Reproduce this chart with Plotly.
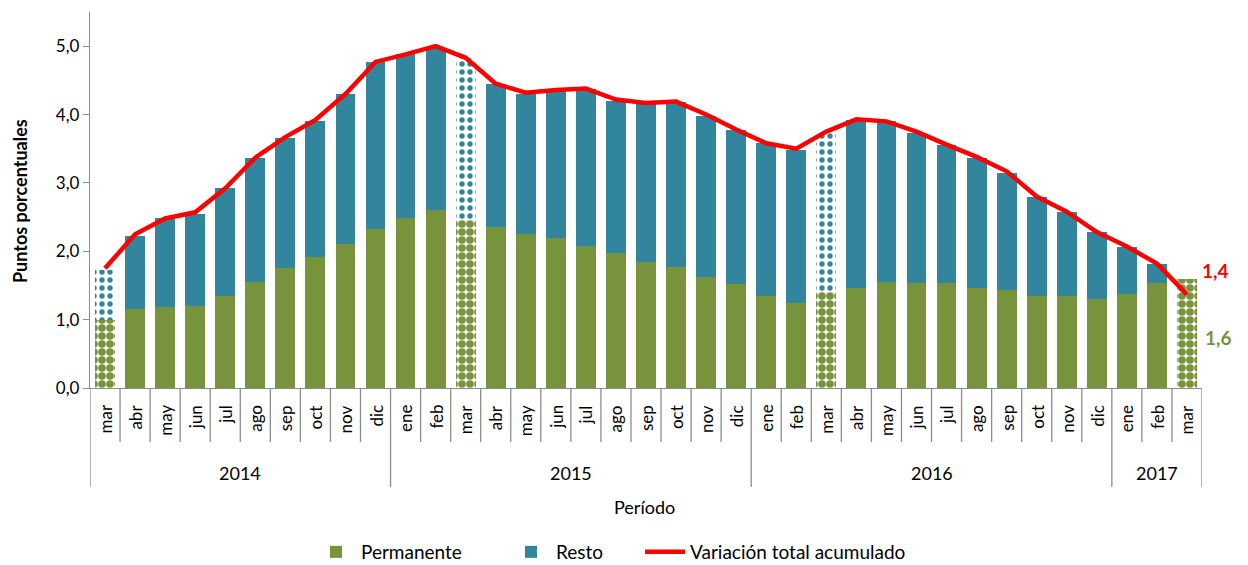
import plotly.graph_objects as go

years = ["2014"] * 10 + ["2015"] * 12 + ["2016"] * 12 + ["2017"] * 3
months = ["mar", "abr", "may", "jun", "jul", "ago", "sep", "oct", "nov", "dic",
          "ene", "feb", "mar", "abr", "may", "jun", "jul", "ago", "sep", "oct", "nov", "dic",
          "ene", "feb", "mar", "abr", "may", "jun", "jul", "ago", "sep", "oct", "nov", "dic",
          "ene", "feb", "mar"]

permanente = [1.00, 1.15, 1.18, 1.20, 1.35, 1.55, 1.75, 1.92, 2.10, 2.32,
              2.48, 2.60, 2.46, 2.36, 2.26, 2.19, 2.08, 1.97, 1.85, 1.77, 1.62, 1.52,
              1.35, 1.25, 1.40, 1.46, 1.55, 1.53, 1.53, 1.47, 1.43, 1.35, 1.35, 1.30,
              1.38, 1.53, 1.60]
total_bar = [1.73, 2.23, 2.48, 2.55, 2.92, 3.36, 3.65, 3.90, 4.30, 4.77,
             4.88, 4.98, 4.83, 4.45, 4.30, 4.35, 4.37, 4.20, 4.15, 4.18, 3.98, 3.78,
             3.58, 3.48, 3.73, 3.92, 3.90, 3.73, 3.55, 3.37, 3.15, 2.80, 2.58, 2.28,
             2.06, 1.82, 1.60]
resto = [round(t - p, 2) for t, p in zip(total_bar, permanente)]
variacion = [1.75, 2.25, 2.48, 2.57, 2.92, 3.37, 3.67, 3.92, 4.30, 4.77,
             4.88, 5.00, 4.83, 4.45, 4.32, 4.36, 4.38, 4.22, 4.17, 4.19, 4.00, 3.78,
             3.58, 3.50, 3.75, 3.93, 3.90, 3.75, 3.56, 3.38, 3.17, 2.80, 2.58, 2.28,
             2.07, 1.82, 1.37]
y_ticks = [0, 1, 2, 3, 4, 5]
last_total_label = "1,4"
last_perm_label = "1,6"

GREEN = "#77933C"
TEAL = "#31859C"
RED = "#FF0000"
GRAY = "#8C8C8C"
FONT = "Lato, Open Sans, sans-serif"

n = len(months)
xs = list(range(n))
is_mar = [m == "mar" for m in months]

def pick(vals, flag):
    return [v if (f == flag) else None for v, f in zip(vals, is_mar)]

fig = go.Figure()
fig.add_trace(go.Bar(x=xs, y=pick(permanente, False), name="Permanente", legend="legend",
                     marker=dict(color=GREEN, line=dict(width=0)), legendgroup="p"))
fig.add_trace(go.Bar(x=xs, y=pick(permanente, True), name="Permanente", showlegend=False,
                     legendgroup="p",
                     marker=dict(color="white", line=dict(width=0),
                                 pattern=dict(shape=".", fgcolor=GREEN, bgcolor="white",
                                              fgopacity=1, size=8, solidity=0.72,
                                              fillmode="replace"))))
fig.add_trace(go.Bar(x=xs, y=pick(resto, False), name="Resto", legend="legend2",
                     marker=dict(color=TEAL, line=dict(width=0)), legendgroup="r"))
fig.add_trace(go.Bar(x=xs, y=pick(resto, True), name="Resto", showlegend=False,
                     legendgroup="r", legend="legend2",
                     marker=dict(color="white", line=dict(width=0),
                                 pattern=dict(shape=".", fgcolor=TEAL, bgcolor="white",
                                              fgopacity=1, size=8, solidity=0.35,
                                              fillmode="replace"))))
fig.add_trace(go.Scatter(x=xs, y=variacion, name="Variación total acumulado", mode="lines",
                         legend="legend3", line=dict(color=RED, width=4.5)))

# placement helpers (the page shows the figure offset by 8 px)
OFF = 8
L, R = 82, 1194
T, B = 4, 380
H = B - T
def py(s):  # target screen y -> paper y
    return -((s - OFF) - B) / H
def px(s):  # target screen x -> paper x
    return (s - OFF - L) / (R - L)

shapes = []
for i in range(n + 1):
    xb = i - 0.5
    is_year_edge = (i == 0 or i == n or years[i] != years[i - 1])
    shapes.append(dict(type="line", xref="x", yref="paper", x0=xb, x1=xb,
                       y0=0, y1=py(487 if is_year_edge else 442),
                       line=dict(color=GRAY, width=1.3)))

annotations = []
for i, m in enumerate(months):
    annotations.append(dict(x=i, y=py(403), xref="x", yref="paper", text=m,
                            textangle=-90, xanchor="center", yanchor="top",
                            showarrow=False, font=dict(size=17, family=FONT)))
seen = []
for y in years:
    if y not in seen:
        seen.append(y)
for y in seen:
    idx = [i for i, v in enumerate(years) if v == y]
    annotations.append(dict(x=(idx[0] + idx[-1]) / 2, y=py(473), xref="x", yref="paper",
                            text=y, xanchor="center", yanchor="middle", showarrow=False,
                            font=dict(size=18, family=FONT)))
annotations.append(dict(x=px(644), y=py(507), xref="paper", yref="paper", text="Período",
                        xanchor="center", yanchor="middle", showarrow=False,
                        font=dict(size=18, family=FONT)))
annotations.append(dict(x=px(20), y=py(201), xref="paper", yref="paper",
                        text="<b>Puntos porcentuales</b>", textangle=-90,
                        xanchor="center", yanchor="middle", showarrow=False,
                        font=dict(size=18, family=FONT)))
annotations.append(dict(x=px(1231), y=1.72, xref="paper", yref="y",
                        text="<b>" + last_total_label + "</b>",
                        showarrow=False, font=dict(color=RED, size=19, family=FONT)))
annotations.append(dict(x=px(1234), y=0.74, xref="paper", yref="y",
                        text="<b>" + last_perm_label + "</b>",
                        showarrow=False, font=dict(color=GREEN, size=19, family=FONT)))

leg_common = dict(orientation="h", xanchor="left", y=py(552), yanchor="middle",
                  font=dict(size=19, family=FONT), itemwidth=40, bgcolor="rgba(0,0,0,0)")

fig.update_layout(
    width=1248, height=565,
    barmode="stack", bargap=0.34,
    plot_bgcolor="white", paper_bgcolor="white",
    separators=",.",
    font=dict(family=FONT, size=17, color="#000000"),
    margin=dict(l=L, r=1248 - R, t=T, b=565 - B, autoexpand=False),
    showlegend=True,
    legend=dict(x=px(311), **leg_common),
    legend2=dict(x=px(506), **leg_common),
    legend3=dict(x=px(640), **leg_common),
    yaxis=dict(range=[0, 5.5], tickvals=y_ticks, tickformat=".1f",
               showgrid=False, zeroline=False, showline=True, linecolor=GRAY, linewidth=1.3,
               ticks="outside", ticklen=6, tickcolor=GRAY, tickfont=dict(size=17)),
    xaxis=dict(range=[-0.5, n - 0.5], showticklabels=False, showgrid=False, zeroline=False,
               showline=True, linecolor=GRAY, linewidth=1.3, ticks=""),
    shapes=shapes,
    annotations=annotations,
)

fig.write_html("out.html")
